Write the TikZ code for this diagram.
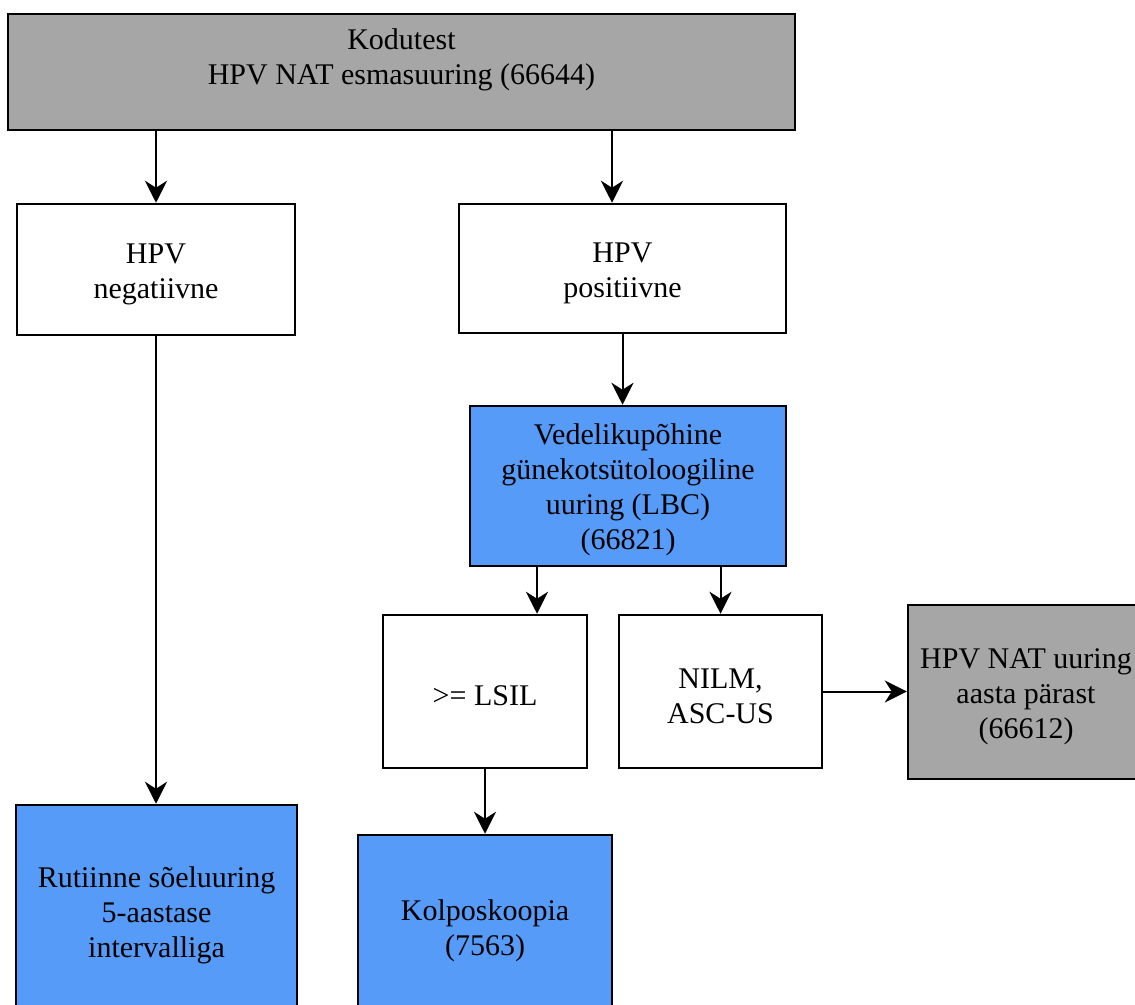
\documentclass[tikz,border=0pt]{standalone}
\usepackage{fontspec}
\setmainfont{Liberation Serif}
\usetikzlibrary{arrows.meta,calc}
\definecolor{boxgray}{HTML}{A6A6A6}
\definecolor{boxblue}{HTML}{569BF7}
\newcommand{\ls}{\rule{0pt}{14.5pt}}
\begin{document}
\begin{tikzpicture}[x=0.5pt,y=-0.5pt,
  box/.style={draw=black, line width=1.25pt, rectangle, align=center, inner sep=0pt,
    font=\fontsize{15}{17.5}\selectfont},
  whitebox/.style={box, fill=white},
  graybox/.style={box, fill=boxgray},
  bluebox/.style={box, fill=boxblue},
  txt/.style={align=center, inner sep=0pt, font=\fontsize{15}{17.5}\selectfont},
  arr/.style={line width=1pt, -{Stealth[length=11pt,width=11pt,inset=3.5pt]}}]
\clip (0,0) rectangle (1135,1005);
\fill[white] (0,0) rectangle (1135,1005);

\node[graybox, minimum width=393.5pt, minimum height=58pt] (top) at (401.5,72) {};
\node[txt] (toptxt) at (401.5,60) {Kodutest\\HPV NAT esmasuuring (66644)};

\node[whitebox, minimum width=139pt, minimum height=65.5pt] (neg) at (156,269.5) {\ls HPV\\negatiivne};
\node[whitebox, minimum width=163.5pt, minimum height=64.5pt] (pos) at (622.5,268.5) {\ls HPV\\positiivne};
\node[bluebox, minimum width=158pt, minimum height=80pt] (lbc) at (628,486) {\ls Vedelikupõhine\\günekotsütoloogiline\\uuring (LBC)\\(66821)};
\node[whitebox, minimum width=102pt, minimum height=76.5pt] (lsil) at (485,691.5) {\ls >= LSIL};
\node[whitebox, minimum width=101.5pt, minimum height=76.5pt] (nilm) at (720.5,691.5) {\ls NILM,\\ASC-US};
\node[graybox, minimum width=118pt, minimum height=87pt] (nat) at (1026,692) {\ls HPV NAT uuring\\aasta pärast\\(66612)};
\node[bluebox, minimum width=140.5pt, minimum height=106pt] (rut) at (156.5,911) {\ls Rutiinne sõeluuring\\5-aastase\\intervalliga};
\node[bluebox, minimum width=127pt, minimum height=92pt] (kol) at (485,927) {\ls Kolposkoopia\\(7563)};

\draw[arr] (top.south -| neg.north) -- (neg.north);
\draw[arr] ([xshift=-5.25pt]pos.north |- top.south) -- ([xshift=-5.25pt]pos.north);
\draw[arr] (pos.south) -- (pos.south |- lbc.north);
\draw[arr] ([xshift=26pt]lsil.north |- lbc.south) -- ([xshift=26pt]lsil.north);
\draw[arr] (nilm.north |- lbc.south) -- (nilm.north);
\draw[arr] (nilm.east) -- (nilm.east -| nat.west);
\draw[arr] (neg.south) -- (neg.south |- rut.north);
\draw[arr] (lsil.south) -- (lsil.south |- kol.north);
\end{tikzpicture}
\end{document}
